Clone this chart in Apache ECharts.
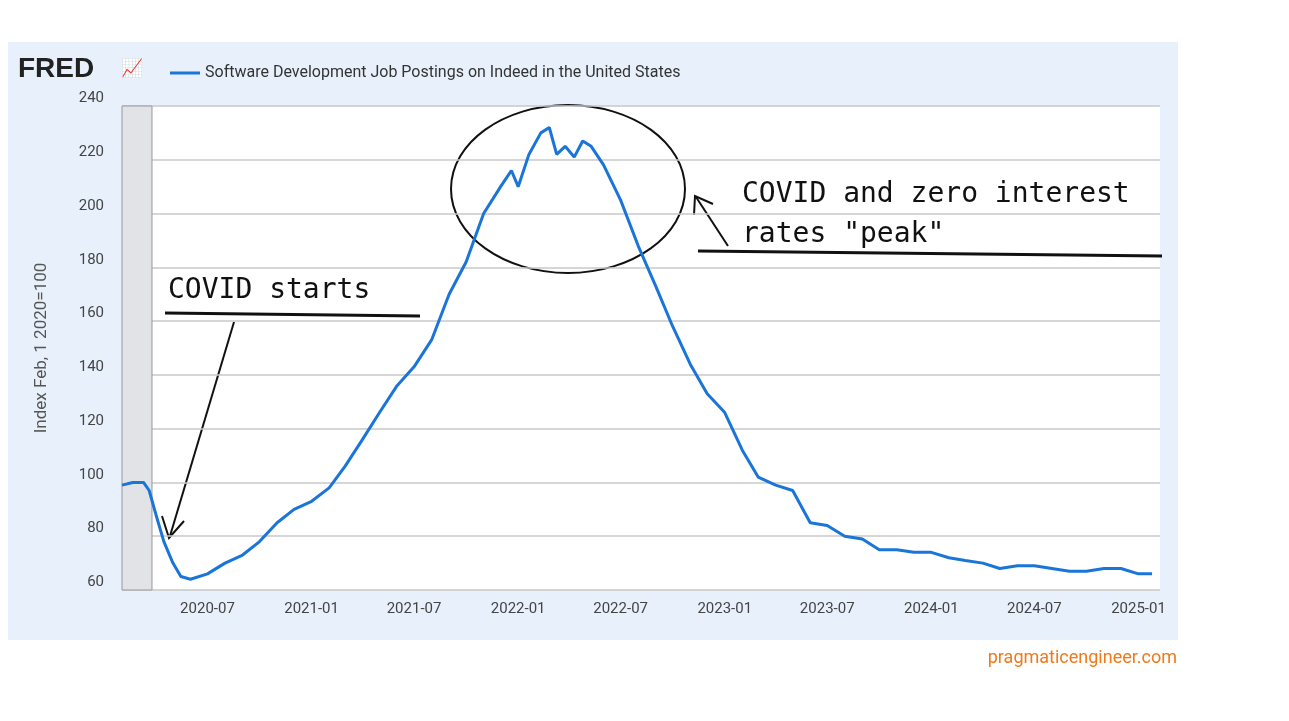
<!DOCTYPE html>
<html><head><meta charset="utf-8">
<script src="https://cdn.jsdelivr.net/npm/echarts@6/dist/echarts.min.js"></script>
<style>html,body{margin:0;padding:0;background:#fff}
#panel{position:absolute;left:8px;top:42px;width:1170px;height:598px;background:#e8f1fb}
#c{position:absolute;left:0;top:0;width:1289px;height:721px}</style></head>
<body><div id="panel"></div><div id="c"></div>
<script>
const dates=['2020-02-01','2020-02-20','2020-03-10','2020-03-20','2020-04-01','2020-04-15','2020-05-01','2020-05-15','2020-06-01','2020-07-01','2020-08-01','2020-09-01','2020-10-01','2020-11-01','2020-12-01','2021-01-01','2021-02-01','2021-03-01','2021-04-01','2021-05-01','2021-06-01','2021-07-01','2021-08-01','2021-09-01','2021-10-01','2021-11-01','2021-12-01','2021-12-20','2022-01-01','2022-01-20','2022-02-10','2022-02-25','2022-03-10','2022-03-25','2022-04-10','2022-04-25','2022-05-10','2022-06-01','2022-07-01','2022-08-01','2022-09-01','2022-10-01','2022-11-01','2022-12-01','2023-01-01','2023-02-01','2023-03-01','2023-04-01','2023-05-01','2023-06-01','2023-07-01','2023-08-01','2023-09-01','2023-10-01','2023-11-01','2023-12-01','2024-01-01','2024-02-01','2024-03-01','2024-04-01','2024-05-01','2024-06-01','2024-07-01','2024-08-01','2024-09-01','2024-10-01','2024-11-01','2024-12-01','2025-01-01','2025-01-25'];
const values=[99,100,100,97,88,78,70,65,64,66,70,73,78,85,90,93,98,106,116,126,136,143,153,170,182,200,210,216,210,222,230,232,222,225,221,227,225,218,205,188,173,158,144,133,126,112,102,99,97,85,84,80,79,75,75,74,74,72,71,70,68,69,69,68,67,67,68,68,66,66];
const seriesName='Software Development Job Postings on Indeed in the United States';
const yTicks=[60,80,100,120,140,160,180,200,220,240];
const c=echarts.init(document.getElementById('c'));
const hand='"DejaVu Sans Mono"';
c.setOption({
 animation:false,
 grid:{left:122,right:129,top:106,bottom:131,show:true,backgroundColor:'#fff',borderWidth:0},
 legend:{left:165,top:60,itemWidth:30,itemHeight:3,icon:'rect',textStyle:{fontSize:16,color:'#333',fontFamily:'Roboto'},data:[seriesName]},
 xAxis:{type:'time',min:'2020-02-01',max:'2025-02-08',minInterval:181*864e5,maxInterval:184*864e5,
  axisLine:{show:false},axisTick:{show:false},splitLine:{show:false},
  axisLabel:{fontSize:15,color:'#444',margin:12,fontFamily:'Roboto',formatter:v=>{const d=new Date(v);return d.getFullYear()+'-'+String(d.getMonth()+1).padStart(2,'0');}}},
 yAxis:{type:'value',min:60,max:240,interval:20,name:'Index Feb, 1 2020=100',nameLocation:'middle',nameGap:72,
  nameTextStyle:{fontSize:17,color:'#555',fontFamily:'Roboto'},
  axisLabel:{fontSize:15,color:'#444',margin:18,fontFamily:'Roboto',verticalAlign:'bottom'},
  splitLine:{lineStyle:{color:'#c8c8c8',width:1.5}}},
 series:[{name:seriesName,type:'line',showSymbol:false,color:'#1a75d9',lineStyle:{width:3},
  data:dates.map((d,i)=>[d,values[i]]),
  markArea:{silent:true,itemStyle:{color:'#e1e3e6',borderColor:'#999',borderWidth:1},data:[[{xAxis:'2020-02-01'},{xAxis:'2020-03-25'}]]}}],
 graphic:[
  {type:'text',left:18,top:55,style:{text:'FRED',font:'900 28px "Liberation Sans"',fill:'#222'}},
  {type:'text',left:121,top:60,style:{text:'📈',font:'18px "DejaVu Sans"',fill:'#88a'}},
  {type:'text',left:168,top:277,style:{text:'COVID starts',font:'28px '+hand,fill:'#111'}},
  {type:'line',shape:{x1:165,y1:313,x2:420,y2:316},style:{stroke:'#111',lineWidth:3}},
  {type:'line',shape:{x1:234,y1:322,x2:170,y2:536},style:{stroke:'#111',lineWidth:2}},
  {type:'polyline',shape:{points:[[162,516],[169,538],[184,521]]},style:{stroke:'#111',lineWidth:2,fill:null}},
  {type:'ellipse',shape:{cx:568,cy:189,rx:117,ry:84},style:{stroke:'#111',lineWidth:2,fill:null}},
  {type:'text',left:742,top:175,style:{text:'COVID and zero interest\nrates "peak"',font:'28px '+hand,lineHeight:40,fill:'#111'}},
  {type:'line',shape:{x1:698,y1:251,x2:1162,y2:256},style:{stroke:'#111',lineWidth:3}},
  {type:'line',shape:{x1:728,y1:246,x2:696,y2:197},style:{stroke:'#111',lineWidth:2}},
  {type:'polyline',shape:{points:[[694,215],[695,196],[713,204]]},style:{stroke:'#111',lineWidth:2,fill:null}},
  {type:'text',right:112,top:649,style:{text:'pragmaticengineer.com',font:'18px Roboto',fill:'#f07a1a'}}
 ]
});
</script></body></html>
